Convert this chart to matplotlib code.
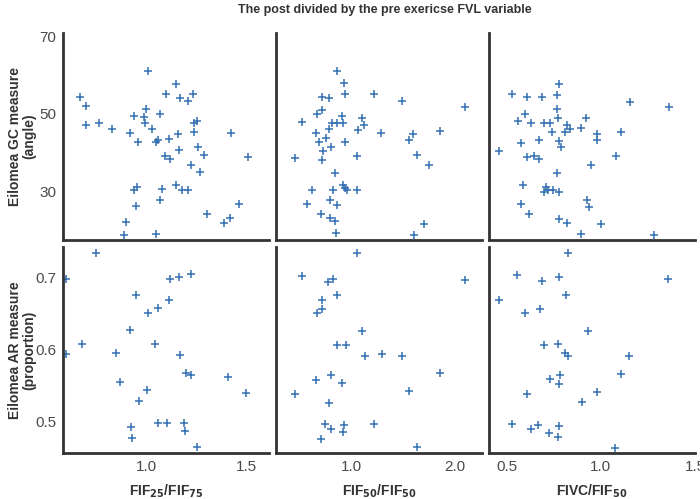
import matplotlib
matplotlib.use("Agg")
import matplotlib.pyplot as plt

plt.rcParams['font.family'] = ['Liberation Sans', 'DejaVu Sans']

# top row: GC measure (angle)
gc_x1 = [1.01, 1.15, 1.10, 1.235, 1.17, 1.21, 0.67, 0.70, 1.00, 1.07, 0.94, 0.99, 0.995,
         1.24, 1.255, 0.70, 0.765, 0.83, 1.03, 0.92, 1.24, 1.425, 1.16, 0.96, 1.05, 1.06,
         1.115, 1.165, 1.26, 1.095, 1.12, 1.29, 1.51, 1.225, 1.27, 1.15, 1.18, 1.21, 0.955,
         0.94, 1.08, 1.07, 0.95, 1.465, 1.305, 1.42, 1.39, 0.90, 0.89, 1.05]
gc_y1 = [61.0, 57.6, 55.1, 55.1, 54.0, 53.2, 54.4, 51.9, 51.1, 49.9, 49.4, 49.1, 47.6,
         47.6, 48.1, 47.0, 47.6, 46.0, 46.1, 45.1, 45.3, 45.1, 44.8, 42.8, 42.8, 43.1,
         43.4, 40.6, 41.3, 39.1, 38.3, 39.2, 38.8, 36.7, 34.9, 31.5, 30.4, 30.2, 31.0,
         30.2, 30.5, 27.8, 26.1, 26.6, 24.2, 23.0, 21.7, 22.0, 18.7, 18.9]

gc_x2 = [0.87, 0.93, 0.94, 1.22, 1.49, 2.10, 0.72, 0.785, 0.72, 0.67, 0.53, 0.91, 0.815,
         0.87, 0.92, 1.105, 1.13, 0.79, 0.66, 1.07, 1.285, 1.60, 1.555, 1.855, 0.76, 0.695,
         0.94, 0.805, 0.73, 0.46, 0.72, 1.06, 1.635, 1.755, 0.85, 0.92, 0.94, 0.96, 0.83,
         1.06, 0.63, 0.80, 0.87, 0.58, 0.715, 0.80, 0.85, 1.705, 0.86, 1.605]
gc_y2 = [61.0, 57.8, 55.1, 55.0, 53.2, 51.7, 54.3, 54.0, 50.9, 49.9, 47.9, 49.4, 47.6,
         47.6, 47.6, 49.0, 47.1, 46.0, 45.1, 45.7, 45.1, 44.8, 43.2, 45.5, 43.6, 42.6,
         42.8, 41.3, 40.4, 38.6, 38.1, 39.0, 39.2, 36.7, 34.6, 31.6, 30.8, 30.3, 30.3,
         30.2, 30.4, 27.6, 26.3, 26.6, 24.1, 23.0, 22.2, 21.6, 19.1, 18.6]

gc_x3 = [0.777, 0.53, 0.61, 0.686, 0.77, 1.155, 1.36, 0.77, 0.60, 0.775, 0.92, 0.56, 0.63,
         0.70, 0.73, 0.82, 0.835, 0.895, 0.74, 0.81, 0.98, 1.105, 0.67, 0.78, 0.98, 0.575,
         0.79, 0.46, 0.61, 0.645, 0.67, 1.08, 0.95, 0.77, 0.59, 0.71, 0.72, 0.745, 0.70,
         0.78, 0.925, 0.94, 0.575, 0.62, 0.78, 0.82, 1.0, 0.895, 1.28]
gc_y3 = [57.6, 55.0, 54.4, 54.3, 54.9, 53.1, 51.7, 51.1, 49.9, 49.0, 49.0, 48.1, 47.6,
         47.6, 47.6, 47.1, 46.0, 46.3, 45.3, 45.3, 44.8, 45.3, 43.3, 43.0, 43.1, 42.4,
         41.3, 40.4, 38.7, 39.0, 38.3, 39.0, 36.7, 34.8, 31.6, 31.0, 30.4, 30.4, 29.9,
         29.9, 27.6, 25.9, 26.8, 24.1, 22.9, 21.8, 21.6, 19.0, 18.6]

# bottom row: AR measure (proportion)
ar_x1 = [0.75, 0.60, 1.12, 1.165, 1.225, 0.95, 1.115, 1.06, 1.01, 0.92, 0.68, 1.045, 0.60,
         0.85, 1.17, 1.20, 1.225, 1.41, 1.50, 0.87, 1.005, 0.965, 0.925, 1.06, 1.105, 1.19,
         1.195, 0.93, 1.255]
ar_y1 = [0.734, 0.698, 0.697, 0.700, 0.705, 0.676, 0.668, 0.657, 0.651, 0.627, 0.607, 0.608,
         0.593, 0.595, 0.592, 0.567, 0.564, 0.561, 0.539, 0.554, 0.543, 0.528, 0.492, 0.498,
         0.497, 0.497, 0.486, 0.477, 0.464]

ar_x2 = [1.06, 0.53, 0.78, 0.83, 2.10, 0.865, 0.72, 0.72, 0.67, 1.105, 0.87, 0.95, 1.135,
         1.30, 1.49, 1.855, 0.66, 0.81, 0.91, 1.56, 0.46, 0.79, 0.75, 0.81, 0.93, 0.92,
         1.22, 0.715, 1.635]
ar_y2 = [0.733, 0.702, 0.694, 0.698, 0.696, 0.675, 0.668, 0.656, 0.650, 0.625, 0.606, 0.606,
         0.591, 0.594, 0.591, 0.567, 0.558, 0.564, 0.553, 0.542, 0.538, 0.526, 0.496, 0.490,
         0.495, 0.485, 0.496, 0.476, 0.464]

ar_x3 = [0.826, 0.555, 0.686, 0.78, 1.357, 0.818, 0.46, 0.60, 0.675, 0.93, 0.70, 0.773, 0.81,
         0.825, 1.15, 1.11, 0.785, 0.73, 0.777, 0.98, 0.61, 0.90, 0.527, 0.666, 0.63, 0.777,
         0.725, 0.775, 1.077]
ar_y3 = [0.734, 0.703, 0.695, 0.700, 0.697, 0.675, 0.668, 0.650, 0.656, 0.625, 0.606, 0.607,
         0.595, 0.591, 0.591, 0.566, 0.564, 0.559, 0.552, 0.541, 0.538, 0.527, 0.496, 0.495,
         0.490, 0.494, 0.484, 0.478, 0.463]

x_labels = ["FIF$_{\\mathbf{25}}$/FIF$_{\\mathbf{75}}$",
            "FIF$_{\\mathbf{50}}$/FIF$_{\\mathbf{50}}$",
            "FIVC/FIF$_{\\mathbf{50}}$"]
y_labels = ["Eilomea GC measure\n(angle)", "Eilomea AR measure\n(proportion)"]
x_ticks = [[1.0, 1.5], [1.0, 2.0], [0.5, 1.0, 1.5]]
x_lims = [(0.585, 1.615), (0.279, 2.26), (0.407, 1.5)]
y_ticks = [[30, 50, 70], [0.5, 0.6, 0.7]]
y_lims = [(17.4, 70.8), (0.456, 0.742)]

data = [[(gc_x1, gc_y1), (gc_x2, gc_y2), (gc_x3, gc_y3)],
        [(ar_x1, ar_y1), (ar_x2, ar_y2), (ar_x3, ar_y3)]]

W, H = 700, 499
fig = plt.figure(figsize=(7, 4.99), dpi=100)

col_px = [(63, 269), (276, 482), (489, 695)]
row_px = [(33, 240), (247, 453)]
blue = "#3470b3"
tick_col = "#4a4a4a"
dark = "#333333"

for r in range(2):
    for c in range(3):
        x0, x1 = col_px[c]
        y0, y1 = row_px[r]
        ax = fig.add_axes([x0 / W, 1 - y1 / H, (x1 - x0) / W, (y1 - y0) / H])
        xs, ys = data[r][c]
        ax.plot(xs, ys, "+", color=blue, ms=6, mew=1.1)
        ax.set_xlim(*x_lims[c])
        ax.set_ylim(*y_lims[r])
        ax.set_xticks(x_ticks[c])
        ax.set_yticks(y_ticks[r])
        ax.xaxis.set_major_formatter(plt.FormatStrFormatter("%.1f"))
        if r == 1:
            ax.yaxis.set_major_formatter(plt.FormatStrFormatter("%.1f"))
        for s in ["top", "right"]:
            ax.spines[s].set_visible(False)
        for s in ["left", "bottom"]:
            ax.spines[s].set_linewidth(2)
            ax.spines[s].set_color(dark)
        ax.tick_params(length=0, labelsize=11, labelcolor=tick_col, pad=5)
        if r == 0:
            ax.tick_params(labelbottom=False)
        else:
            ax.set_xlabel(x_labels[c], fontsize=10, fontweight="bold",
                          color=dark, labelpad=6)
        if c > 0:
            ax.tick_params(labelleft=False)

    yc = 1 - (row_px[r][0] + row_px[r][1]) / 2 / H
    fig.text(22 / W, yc, y_labels[r], rotation=90, ha="center", va="center",
             fontsize=10, fontweight="bold", color=dark, linespacing=1.0)

fig.text(385 / W, 1 - 10 / H, "The post divided by the pre exericse FVL variable",
         ha="center", va="center", fontsize=9, fontweight="bold", color=dark)

fig.savefig("out.png", dpi=100)
